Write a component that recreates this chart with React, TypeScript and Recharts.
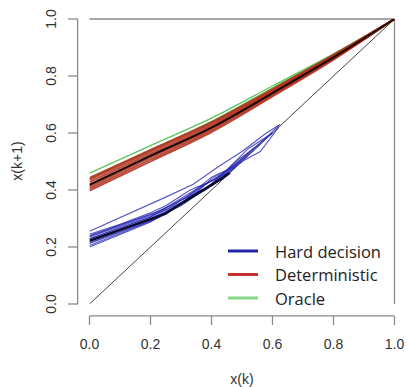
import { LineChart, Line, XAxis, YAxis, ReferenceLine } from 'recharts'

// diagonal x(k+1) = x(k)
const DIAG_X = [0, 1]
const DIAG_Y = [0, 1]

// deterministic (red) runs, shared x grid
const RED_X = [0, 0.2, 0.4, 0.6, 0.8, 1]
const RED_RUNS = [
  [0.398, 0.500, 0.603, 0.728, 0.857, 1],
  [0.405, 0.507, 0.609, 0.733, 0.860, 1],
  [0.412, 0.514, 0.615, 0.737, 0.863, 1],
  [0.420, 0.521, 0.621, 0.742, 0.866, 1],
  [0.428, 0.528, 0.627, 0.746, 0.869, 1],
  [0.436, 0.535, 0.633, 0.750, 0.872, 1],
  [0.443, 0.541, 0.638, 0.754, 0.874, 1],
]
const RED_MEAN = [0.418, 0.520, 0.619, 0.740, 0.865, 1]

// oracle (green) runs
const GREEN_RUNS = [
  [0.459, 0.556, 0.652, 0.765, 0.878, 1],
  [0.440, 0.540, 0.640, 0.758, 0.876, 1],
]

// hard decision (blue) runs, each with own x points
const BLUE_RUNS: { xs: number[]; ys: number[] }[] = [
  { xs: [0, 0.25, 0.34, 0.42, 0.5, 0.58, 0.625], ys: [0.255, 0.375, 0.42, 0.48, 0.535, 0.6, 0.63] },
  { xs: [0, 0.1, 0.2, 0.25, 0.33, 0.42, 0.48, 0.55, 0.62], ys: [0.245, 0.28, 0.32, 0.345, 0.4, 0.44, 0.5, 0.555, 0.625] },
  { xs: [0, 0.2, 0.25, 0.32, 0.4, 0.45, 0.52, 0.6], ys: [0.24, 0.315, 0.335, 0.375, 0.445, 0.47, 0.545, 0.6] },
  { xs: [0, 0.2, 0.26, 0.35, 0.42, 0.5, 0.56], ys: [0.235, 0.31, 0.335, 0.4, 0.445, 0.51, 0.56] },
  { xs: [0, 0.2, 0.3, 0.38, 0.45, 0.52], ys: [0.23, 0.305, 0.355, 0.42, 0.465, 0.52] },
  { xs: [0, 0.2, 0.3, 0.4, 0.5], ys: [0.22, 0.3, 0.35, 0.42, 0.5] },
  { xs: [0, 0.2, 0.3, 0.42, 0.48], ys: [0.215, 0.295, 0.345, 0.432, 0.48] },
  { xs: [0, 0.2, 0.25, 0.35, 0.44], ys: [0.205, 0.29, 0.315, 0.39, 0.44] },
  { xs: [0, 0.2, 0.28, 0.38, 0.45], ys: [0.2, 0.288, 0.34, 0.4, 0.45] },
  { xs: [0, 0.22, 0.33, 0.4, 0.47, 0.53, 0.6], ys: [0.212, 0.3, 0.37, 0.44, 0.48, 0.54, 0.6] },
  { xs: [0, 0.2, 0.3, 0.36, 0.45, 0.5, 0.56, 0.62], ys: [0.228, 0.305, 0.37, 0.41, 0.46, 0.5, 0.535, 0.62] },
  { xs: [0, 0.21, 0.3, 0.38, 0.46, 0.54], ys: [0.238, 0.318, 0.365, 0.405, 0.475, 0.54] },
]
const BLUE_MEAN_X = [0, 0.1, 0.2, 0.25, 0.3, 0.4, 0.46]
const BLUE_MEAN_Y = [0.222, 0.26, 0.298, 0.318, 0.352, 0.418, 0.46]

const TICKS = [0, 0.2, 0.4, 0.6, 0.8, 1]

const LEGEND_ITEMS = [
  { label: 'Hard decision', color: '#2424a8' },
  { label: 'Deterministic', color: '#c83030' },
  { label: 'Oracle', color: '#86d886' },
]

const pts = (xs: number[], ys: number[]) => xs.map((x, i) => ({ x, y: ys[i] }))

const AXIS_COLOR = '#8a8a8a'
const TICK_FONT = '"Liberation Sans", Arial, sans-serif'

function XTick({ x, payload }: any) {
  return (
    <g>
      <line x1={x} x2={x} y1={316} y2={325} stroke={AXIS_COLOR} strokeWidth={1.3} />
      <text x={x} y={349} textAnchor="middle" fontSize={14} fontFamily={TICK_FONT} fill="#333">
        {payload.value.toFixed(1)}
      </text>
    </g>
  )
}

function YTick({ y, payload }: any) {
  return (
    <g>
      <line x1={68} x2={78} y1={y} y2={y} stroke={AXIS_COLOR} strokeWidth={1.3} />
      <text
        x={51}
        y={y}
        transform={`rotate(-90 51 ${y})`}
        textAnchor="middle"
        dominantBaseline="central"
        fontSize={14}
        fontFamily={TICK_FONT}
        fill="#333"
      >
        {payload.value.toFixed(1)}
      </text>
    </g>
  )
}

// legend drawn straight into the svg so it takes no room from the plot
function LegendBox() {
  return (
    <g fontFamily='"Open Sans", sans-serif' fontSize={16.5} fill="#222">
      {LEGEND_ITEMS.map((item, i) => {
        const cy = 251 + i * 23.5
        return (
          <g key={item.label}>
            <line x1={228} x2={258} y1={cy} y2={cy} stroke={item.color} strokeWidth={3} />
            <text x={275} y={cy} dominantBaseline="central">{item.label}</text>
          </g>
        )
      })}
    </g>
  )
}

export default function App() {
  return (
    <div style={{ position: 'absolute', left: 0, top: 0, width: 407, height: 387, background: '#fff' }}>
      <LineChart width={407} height={387} margin={{ top: 19, right: 12.5, left: 29.5, bottom: 53 }}>
        <XAxis
          type="number"
          dataKey="x"
          domain={[0, 1]}
          ticks={TICKS}
          height={30}
          axisLine={false}
          tickLine={false}
          tick={<XTick />}
          allowDataOverflow
        />
        <YAxis
          type="number"
          dataKey="y"
          domain={[0, 1]}
          ticks={TICKS}
          width={60}
          axisLine={false}
          tickLine={false}
          tick={<YTick />}
          allowDataOverflow
        />
        {/* R-style detached axes + frame at 1 */}
        <ReferenceLine segment={[{ x: 0, y: -0.042 }, { x: 1, y: -0.042 }]} stroke={AXIS_COLOR} strokeWidth={1.3} ifOverflow="visible" />
        <ReferenceLine segment={[{ x: -0.039, y: 0 }, { x: -0.039, y: 1 }]} stroke={AXIS_COLOR} strokeWidth={1.3} ifOverflow="visible" />
        <ReferenceLine y={1} stroke={AXIS_COLOR} strokeWidth={1.3} />
        <ReferenceLine x={1} stroke={AXIS_COLOR} strokeWidth={1.3} />

        <Line data={pts(DIAG_X, DIAG_Y)} dataKey="y" stroke="#444" strokeWidth={1} dot={false} isAnimationActive={false} />

        {GREEN_RUNS.map((ys, i) => (
          <Line key={'g' + i} data={pts(RED_X, ys)} dataKey="y" type="monotone" stroke="#5cc45c" strokeWidth={1.3} dot={false} isAnimationActive={false} />
        ))}
        {RED_RUNS.map((ys, i) => (
          <Line key={'r' + i} data={pts(RED_X, ys)} dataKey="y" type="monotone" stroke="#b02a18" strokeOpacity={0.85} strokeWidth={1.9} dot={false} isAnimationActive={false} />
        ))}
        <Line data={pts(RED_X, RED_MEAN)} dataKey="y" type="monotone" stroke="#1a0a06" strokeWidth={2} dot={false} isAnimationActive={false} />

        {BLUE_RUNS.map((r, i) => (
          <Line key={'b' + i} data={pts(r.xs, r.ys)} dataKey="y" stroke="#2a2ab4" strokeOpacity={0.8} strokeWidth={1.1} dot={false} isAnimationActive={false} />
        ))}
        <Line data={pts(BLUE_MEAN_X, BLUE_MEAN_Y)} dataKey="y" stroke="#0a0a30" strokeWidth={2.5} dot={false} isAnimationActive={false} />

        <LegendBox />

        <text x={242} y={384} textAnchor="middle" fontSize={14} fontFamily={TICK_FONT} fill="#333">x(k)</text>
        <text x={17} y={161} transform="rotate(-90 17 161)" textAnchor="middle" dominantBaseline="central" fontSize={14} fontFamily={TICK_FONT} fill="#333">x(k+1)</text>
      </LineChart>
    </div>
  )
}
